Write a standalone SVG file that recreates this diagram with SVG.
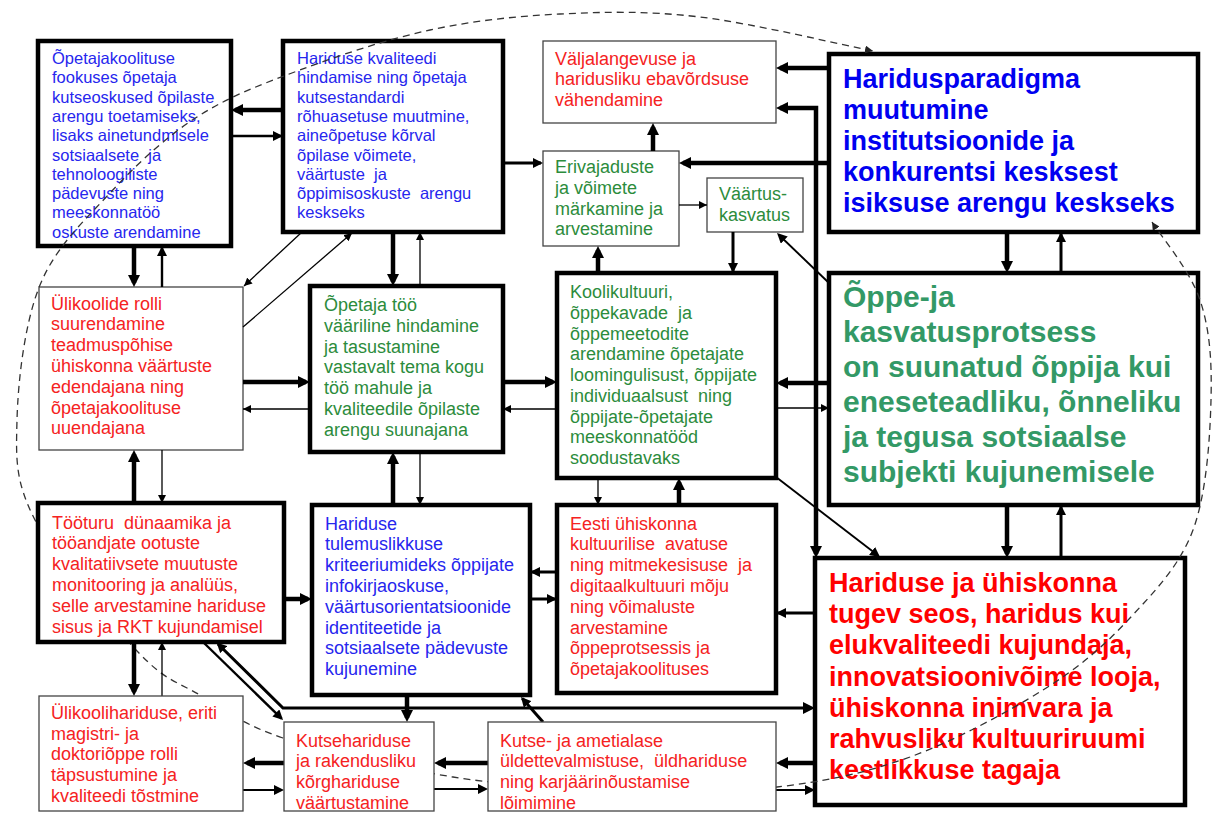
<svg xmlns="http://www.w3.org/2000/svg" width="1213" height="814" viewBox="0 0 1213 814">
<style>
.bg{fill:#ffffff}
.thick{fill:#ffffff;stroke:#000;stroke-width:4.5}
.thin{fill:#ffffff;stroke:#444;stroke-width:1.3}
text{font-family:"Liberation Sans",Arial,sans-serif;font-size:18px;white-space:pre}
.s165{font-size:16.5px}
.blue{fill:#2626ee}
.red{fill:#f52222}
.green{fill:#2c8c3c}
.tblue{fill:#0000f0;font-weight:bold;font-size:27px}
.tgreen{fill:#339966;font-weight:bold;font-size:30px}
.tred{fill:#ff0000;font-weight:bold;font-size:27px}
.c{fill:none;stroke:#000}
.w45{stroke-width:4.5}
.w3{stroke-width:3}
.w25{stroke-width:2.4}
.w2{stroke-width:1.9}
.w1{stroke-width:1.3}
.dash{fill:none;stroke:#333;stroke-width:1.3;stroke-dasharray:7 5}
</style>
<defs>
<marker id="big" viewBox="0 0 12 12" refX="8" refY="6" markerWidth="12" markerHeight="12" markerUnits="userSpaceOnUse" orient="auto-start-reverse"><path d="M0,0 L12,6 L0,12 z" fill="#000"/></marker>
<marker id="med" viewBox="0 0 10 10" refX="8" refY="5" markerWidth="10" markerHeight="10" markerUnits="userSpaceOnUse" orient="auto-start-reverse"><path d="M0,0 L10,5 L0,10 z" fill="#000"/></marker>
<marker id="sm" viewBox="0 0 8 8" refX="8" refY="4" markerWidth="8" markerHeight="8" markerUnits="userSpaceOnUse" orient="auto-start-reverse"><path d="M0,0 L8,4 L0,8 z" fill="#000"/></marker>
<marker id="dsh" viewBox="0 0 8 8" refX="8" refY="4" markerWidth="8" markerHeight="8" markerUnits="userSpaceOnUse" orient="auto-start-reverse"><path d="M0,0 L8,4 L0,8 z" fill="#222"/></marker>
</defs>
<rect class="bg" x="0" y="0" width="1213" height="814"/>

<g id="node-A">
<rect class="thick" x="38" y="41" width="193" height="205"/>
<text class="blue s165"><tspan x="52" y="64">Õpetajakoolituse</tspan><tspan x="52" y="83.3">fookuses õpetaja</tspan><tspan x="52" y="102.6">kutseoskused õpilaste</tspan><tspan x="52" y="121.9">arengu toetamiseks,</tspan><tspan x="52" y="141.2">lisaks ainetundmisele</tspan><tspan x="52" y="160.5">sotsiaalsete  ja</tspan><tspan x="52" y="179.8">tehnoloogiliste</tspan><tspan x="52" y="199.1">pädevuste ning</tspan><tspan x="52" y="218.4">meeskonnatöö</tspan><tspan x="52" y="237.7">oskuste arendamine</tspan></text>
</g>
<g id="node-B">
<rect class="thick" x="283" y="41" width="220" height="191"/>
<text class="blue s165"><tspan x="297" y="64">Hariduse kvaliteedi</tspan><tspan x="297" y="83.3">hindamise ning õpetaja</tspan><tspan x="297" y="102.6">kutsestandardi</tspan><tspan x="297" y="121.9">rõhuasetuse muutmine,</tspan><tspan x="297" y="141.2">aineõpetuse kõrval</tspan><tspan x="297" y="160.5">õpilase võimete,</tspan><tspan x="297" y="179.8">väärtuste  ja</tspan><tspan x="297" y="199.1">õppimisoskuste  arengu</tspan><tspan x="297" y="218.4">keskseks</tspan></text>
</g>
<g id="node-C">
<rect class="thin" x="543" y="41" width="233" height="82"/>
<text class="red"><tspan x="555" y="64.5">Väljalangevuse ja</tspan><tspan x="555" y="85.1">haridusliku ebavõrdsuse</tspan><tspan x="555" y="105.7">vähendamine</tspan></text>
</g>
<g id="node-D">
<rect class="thin" x="543" y="151" width="136" height="95"/>
<text class="green"><tspan x="555" y="173">Erivajaduste</tspan><tspan x="555" y="193.8">ja võimete</tspan><tspan x="555" y="214.6">märkamine ja</tspan><tspan x="555" y="235.4">arvestamine</tspan></text>
</g>
<g id="node-E">
<rect class="thin" x="707" y="178" width="96" height="54"/>
<text class="green"><tspan x="719" y="199.5">Väärtus-</tspan><tspan x="719" y="220.5">kasvatus</tspan></text>
</g>
<g id="node-F">
<rect class="thick" x="829" y="54" width="369" height="178"/>
<text class="tblue"><tspan x="843" y="88">Haridusparadigma</tspan><tspan x="843" y="119">muutumine</tspan><tspan x="843" y="150">institutsioonide ja</tspan><tspan x="843" y="181">konkurentsi kesksest</tspan><tspan x="843" y="212">isiksuse arengu keskseks</tspan></text>
</g>
<g id="node-G">
<rect class="thin" x="39" y="287" width="204" height="163"/>
<text class="red"><tspan x="51" y="309.5">Ülikoolide rolli</tspan><tspan x="51" y="330.3">suurendamine</tspan><tspan x="51" y="351.1">teadmuspõhise</tspan><tspan x="51" y="371.9">ühiskonna väärtuste</tspan><tspan x="51" y="392.7">edendajana ning</tspan><tspan x="51" y="413.5">õpetajakoolituse</tspan><tspan x="51" y="434.3">uuendajana</tspan></text>
</g>
<g id="node-H">
<rect class="thick" x="310" y="286" width="193" height="166"/>
<text class="green"><tspan x="324" y="311">Õpetaja töö</tspan><tspan x="324" y="331.8">vääriline hindamine</tspan><tspan x="324" y="352.6">ja tasustamine</tspan><tspan x="324" y="373.4">vastavalt tema kogu</tspan><tspan x="324" y="394.2">töö mahule ja</tspan><tspan x="324" y="415">kvaliteedile õpilaste</tspan><tspan x="324" y="435.8">arengu suunajana</tspan></text>
</g>
<g id="node-I">
<rect class="thick" x="557" y="273" width="219" height="205"/>
<text class="green"><tspan x="570" y="298">Koolikultuuri,</tspan><tspan x="570" y="318.75">õppekavade  ja</tspan><tspan x="570" y="339.5">õppemeetodite</tspan><tspan x="570" y="360.25">arendamine õpetajate</tspan><tspan x="570" y="381">loomingulisust, õppijate</tspan><tspan x="570" y="401.75">individuaalsust  ning</tspan><tspan x="570" y="422.5">õppijate-õpetajate</tspan><tspan x="570" y="443.25">meeskonnatööd</tspan><tspan x="570" y="464">soodustavaks</tspan></text>
</g>
<g id="node-J">
<rect class="thick" x="829" y="273" width="369" height="232"/>
<text class="tgreen"><tspan x="843" y="307">Õppe-ja</tspan><tspan x="843" y="342">kasvatusprotsess</tspan><tspan x="843" y="377">on suunatud õppija kui</tspan><tspan x="843" y="412">eneseteadliku, õnneliku</tspan><tspan x="843" y="447">ja tegusa sotsiaalse</tspan><tspan x="843" y="482">subjekti kujunemisele</tspan></text>
</g>
<g id="node-L">
<rect class="thick" x="312" y="505" width="218" height="190"/>
<text class="blue"><tspan x="325" y="529.5">Hariduse</tspan><tspan x="325" y="550.3">tulemuslikkuse</tspan><tspan x="325" y="571.1">kriteeriumideks õppijate</tspan><tspan x="325" y="591.9">infokirjaoskuse,</tspan><tspan x="325" y="612.7">väärtusorientatsioonide</tspan><tspan x="325" y="633.5">identiteetide ja</tspan><tspan x="325" y="654.3">sotsiaalsete pädevuste</tspan><tspan x="325" y="675.1">kujunemine</tspan></text>
</g>
<g id="node-M">
<rect class="thick" x="557" y="505" width="219" height="188"/>
<text class="red"><tspan x="570" y="529.5">Eesti ühiskonna</tspan><tspan x="570" y="550.3">kultuurilise  avatuse</tspan><tspan x="570" y="571.1">ning mitmekesisuse  ja</tspan><tspan x="570" y="591.9">digitaalkultuuri mõju</tspan><tspan x="570" y="612.7">ning võimaluste</tspan><tspan x="570" y="633.5">arvestamine</tspan><tspan x="570" y="654.3">õppeprotsessis ja</tspan><tspan x="570" y="675.1">õpetajakoolituses</tspan></text>
</g>
<g id="node-N">
<rect class="thick" x="815" y="558" width="370" height="247"/>
<text class="tred"><tspan x="829" y="592">Hariduse ja ühiskonna</tspan><tspan x="829" y="623.2">tugev seos, haridus kui</tspan><tspan x="829" y="654.4">elukvaliteedi kujundaja,</tspan><tspan x="829" y="685.6">innovatsioonivõime looja,</tspan><tspan x="829" y="716.8">ühiskonna inimvara ja</tspan><tspan x="829" y="748">rahvusliku kultuuriruumi</tspan><tspan x="829" y="779.2">kestlikkuse tagaja</tspan></text>
</g>

<g id="connectors">
<path class="dash" marker-start="url(#dsh)" marker-end="url(#dsh)" d="M1152,222 C1160,235 1190,270 1200,300 C1210,330 1212,362 1211,400 C1210,438 1206.5,494 1193,530 C1179.5,566 1155,591 1130,618 C1105,645 1080,667 1043,690 C1006,713 954,741 910,757 C866,773 825,781.5 777,787 C729,792.5 674,792 620,790 C566,788 509,786 453,777 C397,768 325,752 283,738 C241,724 224,709 200,695 C176,681 165.5,681 138,652 C110.5,623 55,559 35,520 C15,481 16,459 17,420 C18,381 24.5,323 40,285 C55.5,247 84,221 110,193 C136,165 165,137.5 197,117 C228.7,96.5 261,84.5 300,70 C339,55.5 386.7,39.3 430,30 C473.3,20.7 515,16.2 560,14 C605,11.8 647,10.7 700,17 C753,23.3 847.5,46.2 873,51"/>
<path class="c w45" marker-end="url(#big)" d="M283,110 H235"/>
<path class="c w25" marker-end="url(#med)" d="M231,136 H281"/>
<path class="c w3" marker-end="url(#med)" d="M503,163 H541"/>
<path class="c w45" marker-end="url(#big)" d="M653,151 V127"/>
<path class="c w45" marker-end="url(#big)" d="M829,68 H780"/>
<path class="c w45" marker-start="url(#big)" marker-end="url(#big)" d="M816,554 V108 H780"/>
<path class="c w45" marker-end="url(#big)" d="M829,163 H683"/>
<path class="c w1" marker-end="url(#sm)" d="M679,205 H707"/>
<path class="c w3" marker-end="url(#med)" d="M733,232 V271"/>
<path class="c w45" marker-end="url(#big)" d="M598,273 V250"/>
<path class="c w2" marker-end="url(#med)" d="M829,283 L778.5,234.5"/>
<path class="c w45" marker-end="url(#big)" d="M1007,232 V269"/>
<path class="c w3" marker-end="url(#med)" d="M1061,273 V234"/>
<path class="c w45" marker-end="url(#big)" d="M1007,505 V554"/>
<path class="c w3" marker-end="url(#med)" d="M1061,558 V507"/>
<path class="c w45" marker-end="url(#big)" d="M829,383 H780"/>
<path class="c w1" marker-end="url(#sm)" d="M776,408 H829"/>
<path class="c w2" marker-end="url(#med)" d="M776,477 L878.4,555.8"/>
<path class="c w45" marker-end="url(#big)" d="M134,246 V283"/>
<path class="c w25" marker-end="url(#med)" d="M162,287 V248"/>
<path class="c w1" marker-end="url(#sm)" d="M302,232 L244,286"/>
<path class="c w1" marker-end="url(#sm)" d="M243,327 L352,233"/>
<path class="c w45" marker-end="url(#big)" d="M243,382 H306"/>
<path class="c w1" marker-end="url(#sm)" d="M310,409 H243"/>
<path class="c w45" marker-end="url(#big)" d="M503,382 H553"/>
<path class="c w1" marker-end="url(#sm)" d="M557,409 H503"/>
<path class="c w45" marker-end="url(#big)" d="M393,232 V282"/>
<path class="c w1" marker-end="url(#sm)" d="M420,286 V232"/>
<path class="c w45" marker-end="url(#big)" d="M393,505 V456"/>
<path class="c w1" marker-end="url(#sm)" d="M420,452 V505"/>
<path class="c w1" marker-end="url(#sm)" d="M598,478 V505"/>
<path class="c w45" marker-end="url(#big)" d="M679,505 V482"/>
<path class="c w45" marker-end="url(#big)" d="M134,503 V454"/>
<path class="c w1" marker-end="url(#sm)" d="M162,450 V503"/>
<path class="c w45" marker-end="url(#big)" d="M134,642 V692"/>
<path class="c w1" marker-end="url(#sm)" d="M162,696 V642"/>
<path class="c w45" marker-end="url(#big)" d="M284,599 H308"/>
<path class="c w3" marker-end="url(#med)" d="M557,572 H532"/>
<path class="c w3" marker-end="url(#med)" d="M530,599 H555"/>
<path class="c w3" marker-end="url(#med)" d="M815,613 H778"/>
<path class="c w25" marker-end="url(#med)" d="M203,642 L281.6,718.6"/>
<path class="c w3" marker-start="url(#med)" marker-end="url(#big)" d="M218,644 L283,708 H811"/>
<path class="c w45" marker-end="url(#big)" d="M407,695 V718"/>
<path class="c w3" marker-end="url(#med)" d="M543,722 L522.3,698.5"/>
<path class="c w45" marker-end="url(#big)" d="M815,763 H780"/>
<path class="c w2" marker-end="url(#med)" d="M776,790 H813"/>
<path class="c w45" marker-end="url(#big)" d="M488,763 H438"/>
<path class="c w2" marker-end="url(#med)" d="M434,789 H486"/>
<path class="c w45" marker-end="url(#big)" d="M284,763 H247"/>
<path class="c w2" marker-end="url(#med)" d="M243,790 H282"/>
</g>

<g id="node-K">
<rect class="thick" x="38" y="503" width="246" height="139"/>
<text class="red"><tspan x="52" y="528.5">Tööturu  dünaamika ja</tspan><tspan x="52" y="549.3">tööandjate ootuste</tspan><tspan x="52" y="570.1">kvalitatiivsete muutuste</tspan><tspan x="52" y="590.9">monitooring ja analüüs,</tspan><tspan x="52" y="611.7">selle arvestamine hariduse</tspan><tspan x="52" y="632.5">sisus ja RKT kujundamisel</tspan></text>
</g>
<g id="node-O">
<rect class="thin" x="39" y="696" width="204" height="115"/>
<text class="red"><tspan x="51" y="719">Ülikoolihariduse, eriti</tspan><tspan x="51" y="739.7">magistri- ja</tspan><tspan x="51" y="760.4">doktoriõppe rolli</tspan><tspan x="51" y="781.1">täpsustumine ja</tspan><tspan x="51" y="801.8">kvaliteedi tõstmine</tspan></text>
</g>
<g id="node-P">
<rect class="thin" x="284" y="722" width="150" height="89"/>
<text class="red"><tspan x="296" y="746.5">Kutsehariduse</tspan><tspan x="296" y="767.2">ja rakendusliku</tspan><tspan x="296" y="787.9">kõrghariduse</tspan><tspan x="296" y="808.6">väärtustamine</tspan></text>
</g>
<g id="node-Q">
<rect class="thin" x="488" y="722" width="288" height="89"/>
<text class="red"><tspan x="500" y="746.5">Kutse- ja ametialase</tspan><tspan x="500" y="767.2">üldettevalmistuse,  üldhariduse</tspan><tspan x="500" y="787.9">ning karjäärinõustamise</tspan><tspan x="500" y="808.6">lõimimine</tspan></text>
</g>
</svg>
